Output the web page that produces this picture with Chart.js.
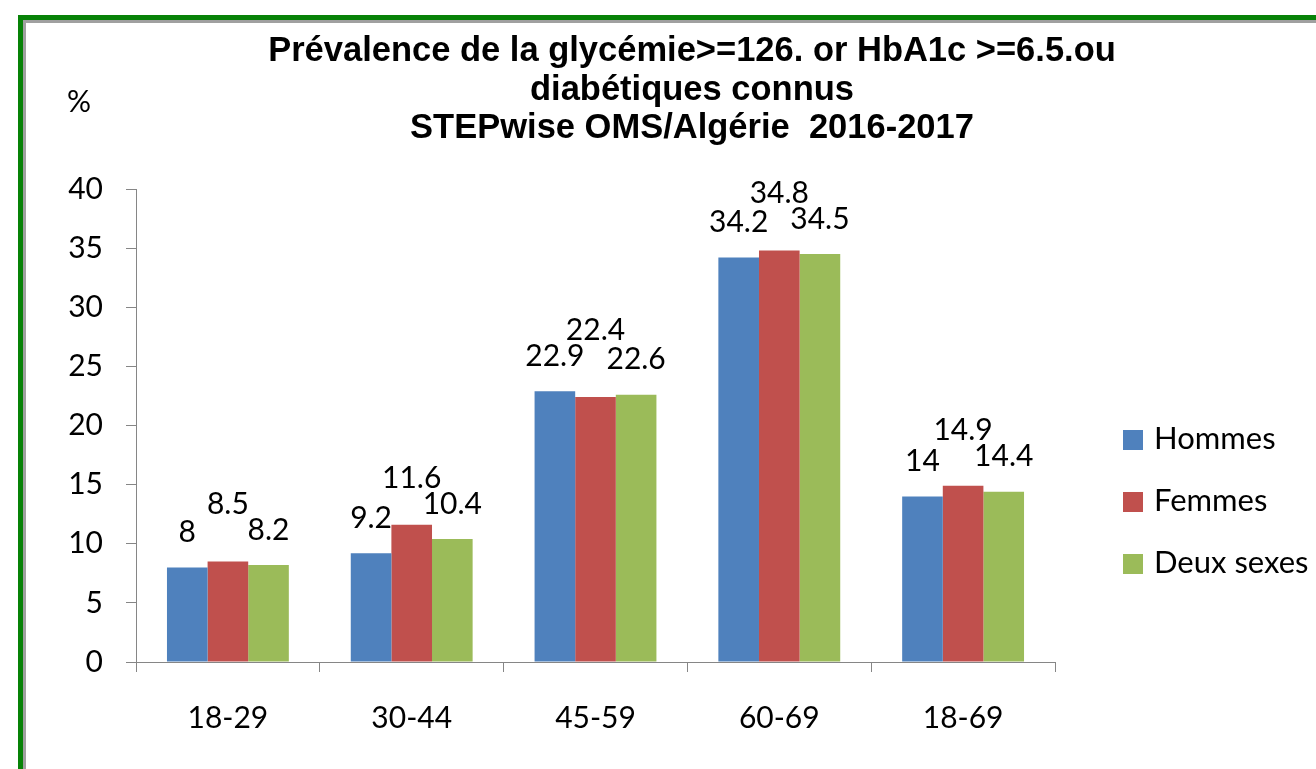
<!DOCTYPE html>
<html>
<head>
<meta charset="utf-8">
<script src="https://cdn.jsdelivr.net/npm/chart.js@4/dist/chart.umd.min.js"></script>
<style>
	html, body { margin: 0; padding: 0; background: #fff; overflow: hidden; }
	#page { position: relative; width: 1316px; height: 769px; overflow: hidden; }
	#cadre { position: absolute; left: 18px; top: 15px; width: 1400px; height: 900px; border: 5px solid #078207; }
	#cadreInt { position: absolute; left: 0; top: 0; right: 0; bottom: 0; border: 3px solid #a0a0a0; border-right: none; border-bottom: none; }
	#grafico { position: absolute; left: 0; top: 0; }
	#titre { position: absolute; left: 92px; top: 30px; width: 1200px; text-align: center;
		font: bold 34.5px "Liberation Sans", Arial, sans-serif; line-height: 38.5px; white-space: pre; color: #000; }
	#unite { position: absolute; left: 67px; top: 82px; font: 30px Lato, sans-serif; color: #000; }
	#legende { position: absolute; left: 1123px; top: 406px; font: 31px Lato, sans-serif; color: #000; }
	#legende div { height: 62px; line-height: 62px; white-space: nowrap; }
	#legende span { display: inline-block; width: 20px; height: 20px; margin-right: 11px; vertical-align: -1px; }
</style>
</head>
<body>
<div id="page">
	<div id="cadre"><div id="cadreInt"></div></div>
	<canvas id="grafico" width="1316" height="769"></canvas>
	<div id="titre"></div>
	<div id="unite">%</div>
	<div id="legende"></div>
</div>
<script>
var titre = ['Prévalence de la glycémie>=126. or HbA1c >=6.5.ou', 'diabétiques connus', 'STEPwise OMS/Algérie  2016-2017'];
var ages = ['18-29', '30-44', '45-59', '60-69', '18-69'];
var hommes = [8, 9.2, 22.9, 34.2, 14];
var femmes = [8.5, 11.6, 22.4, 34.8, 14.9];
var deuxSexes = [8.2, 10.4, 22.6, 34.5, 14.4];
var series = ['Hommes', 'Femmes', 'Deux sexes'];
var couleurs = ['#4f81bd', '#c0504d', '#9bbb59'];

var cinza = '#868686';
var fonteEixo = { family: 'Lato', size: 30 };

document.getElementById('titre').textContent = titre.join('\n');

var legende = document.getElementById('legende');
for (let i = 0; i < series.length; i++) {
	let item = document.createElement('div');
	let caixa = document.createElement('span');
	caixa.style.background = couleurs[i];
	item.appendChild(caixa);
	item.appendChild(document.createTextNode(series[i]));
	legende.appendChild(item);
}

// etiquetas acima das barras, a do meio sobe quando encosta nas outras
var etiquetas = {
	id: 'etiquetas',
	afterDatasetsDraw(chart) {
		let ctx = chart.ctx;
		ctx.save();
		ctx.font = '30px Lato';
		ctx.fillStyle = '#000';
		ctx.textAlign = 'center';
		ctx.textBaseline = 'middle';
		for (let i = 0; i < ages.length; i++) {
			let b = chart.getDatasetMeta(0).data[i];
			let f = chart.getDatasetMeta(1).data[i];
			let d = chart.getDatasetMeta(2).data[i];
			let yB = b.y - 35;
			let yD = d.y - 35;
			let yF = Math.min(Math.min(yB, yD) - 26, f.y - 35);
			ctx.fillText(String(hommes[i]), b.x, yB);
			ctx.fillText(String(femmes[i]), f.x, yF);
			ctx.fillText(String(deuxSexes[i]), d.x, yD);
		}
		ctx.restore();
	}
};

var graficoBarras = new Chart(document.getElementById('grafico'), {
	type: 'bar',
	data: {
		labels: ages,
		datasets: [
			{ label: series[0], data: hommes, backgroundColor: couleurs[0] },
			{ label: series[1], data: femmes, backgroundColor: couleurs[1] },
			{ label: series[2], data: deuxSexes, backgroundColor: couleurs[2] }
		]
	},
	options: {
		responsive: false,
		animation: false,
		categoryPercentage: 0.663,
		barPercentage: 1,
		layout: { padding: { top: 189, left: 30, right: 261, bottom: 0 } },
		plugins: {
			legend: { display: false },
			title: { display: false },
			tooltip: { enabled: false }
		},
		scales: {
			x: {
				grid: { display: true, drawOnChartArea: false, drawTicks: true, tickLength: 10, color: cinza, offset: true },
				border: { color: cinza },
				ticks: { color: '#000', font: fonteEixo, padding: 28 },
				afterFit: function (scale) { scale.height = 107; }
			},
			y: {
				min: 0,
				max: 40,
				ticks: { stepSize: 5, color: '#000', font: fonteEixo, padding: 23 },
				grid: { drawOnChartArea: false, drawTicks: true, tickLength: 10, color: cinza },
				border: { color: cinza },
				afterFit: function (scale) { scale.width = 106; }
			}
		}
	},
	plugins: [etiquetas]
});
</script>
</body>
</html>
